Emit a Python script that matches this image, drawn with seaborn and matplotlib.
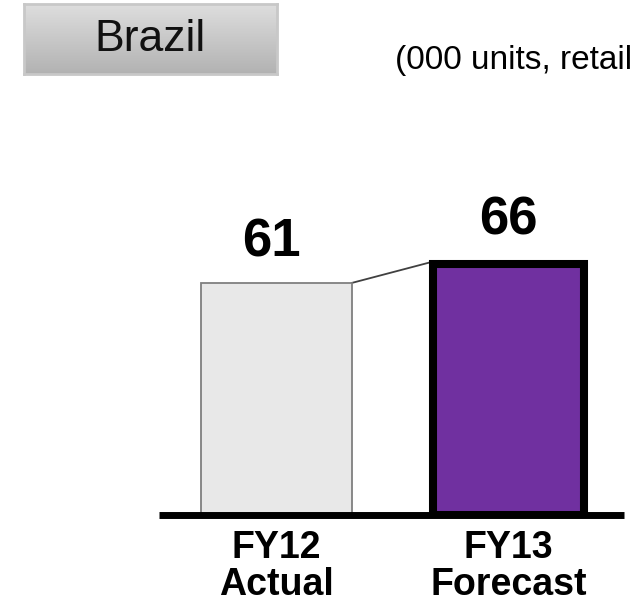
import numpy as np
import pandas as pd
import matplotlib
matplotlib.use("Agg")
import matplotlib.pyplot as plt
import seaborn as sns

# Data
periods = ["FY12\nActual", "FY13\nForecast"]
units = [61, 66]
region = "Brazil"
unit_note = "(000 units, retail"

fill_colors = ["#E8E8E8", "#7030A0"]
edge_colors = ["#7F7F7F", "#000000"]
edge_widths = [1.3, 5.8]

sns.set_theme(style="white")
plt.rcParams["font.family"] = ["Liberation Sans", "DejaVu Sans"]

W, H = 639, 605
fig = plt.figure(figsize=(W / 100, H / 100), dpi=100)

df = pd.DataFrame({"period": periods, "units": units})

# Plot area: baseline at y=514.5 px, spans x 159..624 px
ax = fig.add_axes([159 / W, (H - 514.5) / H, 465 / W, 364.5 / H])
sns.barplot(data=df, x="period", y="units", hue="period", palette=fill_colors,
            width=0.647, legend=False, ax=ax, saturation=1)

for patch, ec, lw in zip(ax.patches, edge_colors, edge_widths):
    patch.set_edgecolor(ec)
    patch.set_linewidth(lw)
    patch.set_joinstyle("miter")

ax.set_xlim(-0.5065, 1.498)
ax.set_ylim(0, 96.05)

# Connector between bar tops
p0, p1 = ax.patches[0], ax.patches[1]
ax.plot([p0.get_x() + p0.get_width(), p1.get_x() - 0.017],
        [units[0], units[1] + 0.4], color="#404040", lw=1.3, zorder=0.5)

# Value labels
for i, v in enumerate(units):
    ax.annotate(f"{v}", xy=(i, v), xytext=(-4 if i == 0 else 0, 19 if i == 0 else 21),
                textcoords="offset points", ha="center", va="baseline",
                fontsize=38, fontweight="bold", color="black")

for s in ["top", "left", "right"]:
    ax.spines[s].set_visible(False)
ax.spines["bottom"].set_color("black")
ax.spines["bottom"].set_linewidth(5.0)
ax.spines["bottom"].set_capstyle("butt")

ax.set_xlabel("")
ax.set_ylabel("")
ax.set_yticks([])
ax.tick_params(axis="x", length=0, pad=11)
for lbl in ax.get_xticklabels():
    lbl.set_fontsize(27)
    lbl.set_fontweight("bold")
    lbl.set_linespacing(1.04)
    lbl.set_color("black")
ax.set_facecolor("none")

# Region button with vertical gradient
bx = fig.add_axes([24 / W, (H - 74) / H, 253 / W, 70 / H])
grad = np.linspace(0, 1, 256).reshape(-1, 1)
cmap = matplotlib.colors.LinearSegmentedColormap.from_list("btn", ["#DEDEDE", "#B2B2B2"])
bx.imshow(grad, aspect="auto", cmap=cmap, extent=[0, 1, 0, 1], origin="upper")
bx.set_xlim(0, 1)
bx.set_ylim(0, 1)
bx.set_xticks([])
bx.set_yticks([])
for s in bx.spines.values():
    s.set_color("#C8C8C8")
    s.set_linewidth(2)
bx.text(0.5, 0.49, region, ha="center", va="center", fontsize=32, color="#111111",
        transform=bx.transAxes)

fig.text(395 / W, (H - 69) / H, unit_note, ha="left", va="baseline",
         fontsize=24, color="black")

fig.savefig("out.png", dpi=100, facecolor="white")
